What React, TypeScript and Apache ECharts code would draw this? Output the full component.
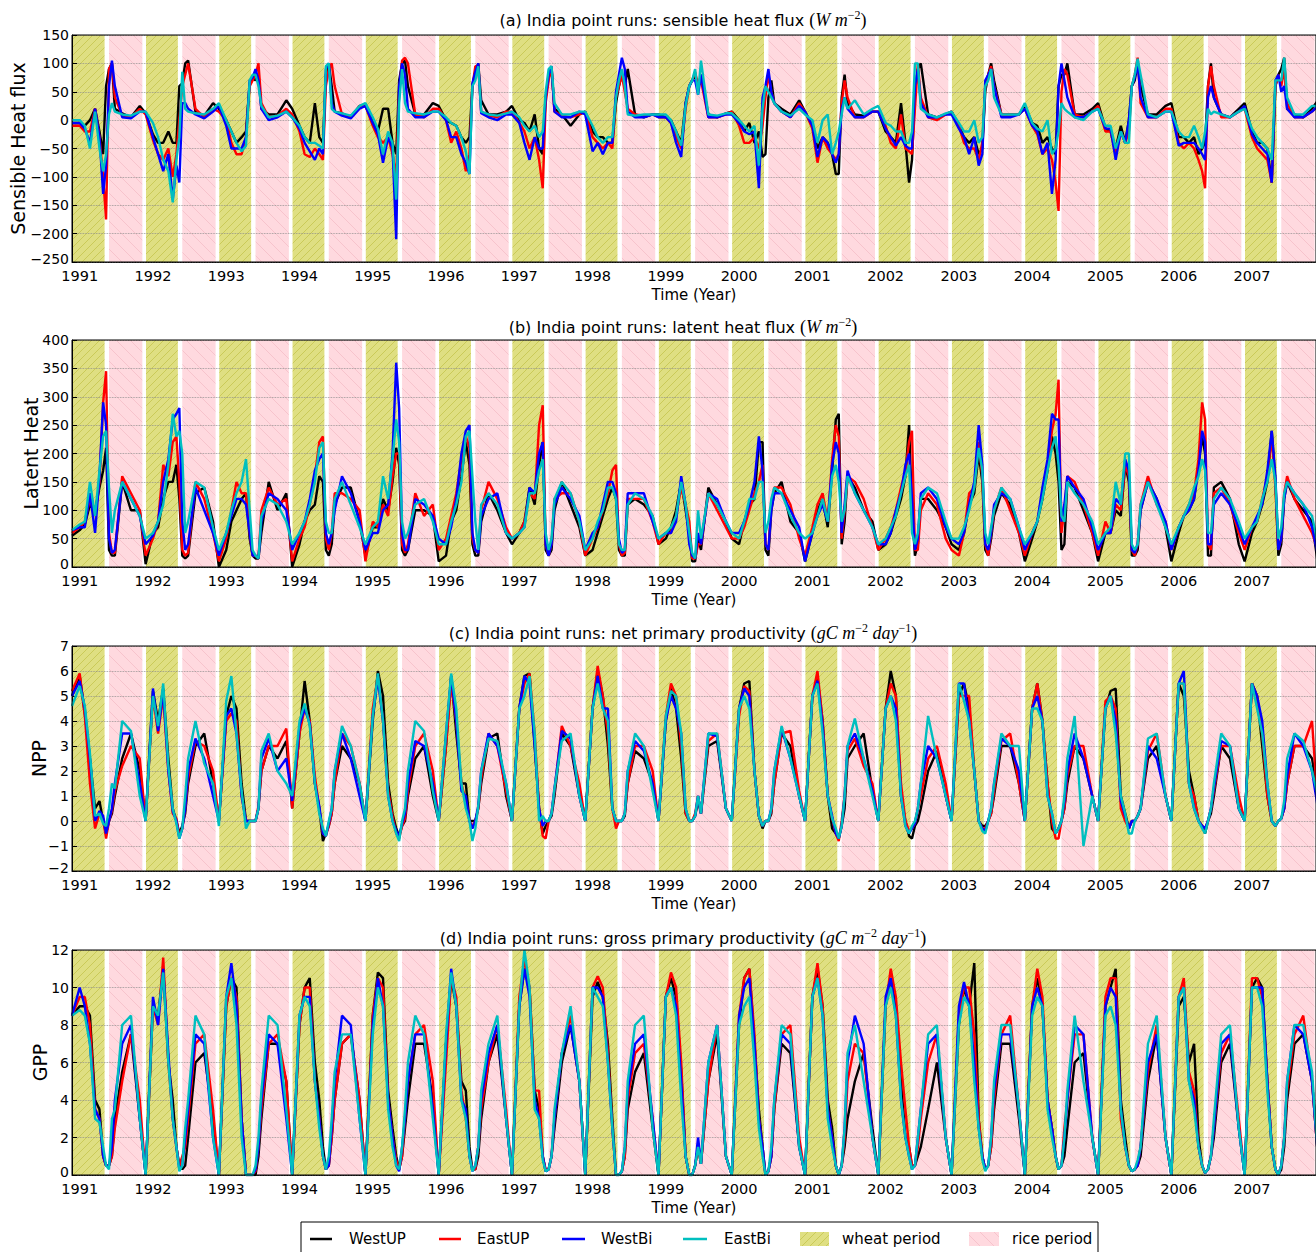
import React, { useEffect, useRef } from "react";
import * as echarts from "echarts";

// ---------- time axis ----------
const YEARS = [1991, 1992, 1993, 1994, 1995, 1996, 1997, 1998, 1999, 2000, 2001, 2002, 2003, 2004, 2005, 2006, 2007];
// sample positions inside each year (fraction of year)
const OFFSETS = [0.0, 0.07, 0.14, 0.21, 0.27, 0.32, 0.36, 0.4, 0.44, 0.48, 0.58, 0.7, 0.82, 0.9];
const START_T = 1990.895;
const X_MIN = 1990.895;
const X_MAX = 2007.874;
const TIME = [START_T, ...YEARS.flatMap((y) => OFFSETS.map((o) => Math.round((y + o) * 1000) / 1000))];

const WHEAT_PERIODS = [
  [1990.895, 1991.34], [1991.905, 1992.34], [1992.905, 1993.34], [1993.905, 1994.34], [1994.905, 1995.34],
  [1995.905, 1996.34], [1996.905, 1997.34], [1997.905, 1998.34], [1998.905, 1999.34], [1999.905, 2000.34],
  [2000.905, 2001.34], [2001.905, 2002.34], [2002.905, 2003.34], [2003.905, 2004.34], [2004.905, 2005.34],
  [2005.905, 2006.34], [2006.905, 2007.34],
];
const RICE_PERIODS = [
  [1991.4, 1991.855], [1992.4, 1992.855], [1993.4, 1993.855], [1994.4, 1994.855], [1995.4, 1995.855],
  [1996.4, 1996.855], [1997.4, 1997.855], [1998.4, 1998.855], [1999.4, 1999.855], [2000.4, 2000.855],
  [2001.4, 2001.855], [2002.4, 2002.855], [2003.4, 2003.855], [2004.4, 2004.855], [2005.4, 2005.855],
  [2006.4, 2006.855], [2007.4, 2007.855],
];

const SERIES_NAMES = ["WestUP", "EastUP", "WestBi", "EastBi"];

// ---------- (a) sensible heat flux ----------
const SH_WESTUP = [-5,
  -5,-10,0,20,-20,-60,60,90,100,20,12,5,25,12,
  -25,-40,-40,-20,-40,-40,60,65,100,105,15,8,30,20,
  0,-20,-40,-30,-20,65,75,70,80,20,10,10,35,20,
  -10,-30,-40,30,-30,-40,80,100,60,15,12,5,25,25,
  0,-20,20,20,-40,-60,70,100,105,60,10,10,30,25,
  0,-5,-10,-30,-40,-30,60,85,100,35,10,10,15,25,
  0,-5,-20,10,-50,-60,40,75,90,20,10,-10,10,15,
  -20,-30,-30,-40,-40,30,60,80,60,90,10,5,10,10,
  5,0,-20,-40,30,60,70,80,60,80,10,5,12,15,
  0,-20,-5,-40,-20,-65,-60,40,70,30,20,10,35,15,
  -10,-50,-30,-40,-60,-95,-95,40,80,30,10,8,15,15,
  -20,-30,-40,30,-40,-110,-70,50,90,100,10,5,10,15,
  -10,-30,-40,-30,-60,-50,50,80,100,70,10,10,10,25,
  -5,-10,-40,-30,-50,-60,60,80,80,100,10,10,20,30,
  -15,-20,-50,-10,-40,0,60,70,100,60,10,10,25,30,
  -30,-30,-40,-30,-60,-50,-40,60,100,40,10,5,20,30,
  -20,-40,-40,-50,-110,60,80,90,110,20,10,5,20,35];
const SH_EASTUP = [-10,
  -10,-20,-20,20,-30,-100,-175,90,100,40,8,5,20,10,
  -35,-60,-70,-50,-100,-60,0,60,80,100,20,5,20,15,
  0,-40,-60,-60,-30,60,70,80,100,30,5,8,20,10,
  -20,-60,-65,-50,-60,-70,60,90,100,60,10,5,25,25,
  -10,-30,-40,-30,-60,-100,50,105,110,100,10,5,20,20,
  0,-40,-20,-50,-90,-60,60,95,95,15,8,5,15,15,
  -5,-20,-50,-30,-70,-120,30,70,95,15,8,5,10,15,
  -30,-40,-50,-40,-50,40,60,80,50,20,10,8,10,5,
  5,-5,-30,-50,20,60,70,85,60,70,5,5,10,15,
  -10,-40,-40,-30,-50,-10,40,80,50,30,15,5,30,15,
  -15,-75,-30,-50,-60,-70,-60,30,70,40,5,5,15,15,
  -10,-40,-50,10,-50,-55,-60,20,100,40,5,0,10,15,
  -10,-40,-50,-50,-70,-40,60,80,95,60,10,10,10,20,
  -10,-25,-60,-50,-70,-110,-160,50,90,80,10,5,15,25,
  -20,-20,-60,-20,-40,-20,60,80,110,30,5,5,20,20,
  -40,-50,-40,-50,-70,-90,-120,60,95,60,5,5,15,20,
  -30,-50,-60,-70,-110,60,80,60,90,30,5,5,15,25];
const SH_WESTBI = [-5,
  -5,-15,-40,20,-30,-130,-80,60,105,60,5,3,15,15,
  -30,-60,-90,-60,-140,-80,-110,30,30,20,10,3,15,25,
  -10,-50,-50,-50,-30,70,75,90,70,20,0,5,15,5,
  -15,-40,-55,-70,-50,-60,90,100,30,15,8,3,20,25,
  -5,-25,-75,-30,-50,-210,60,100,80,20,5,5,15,15,
  0,-30,-30,-60,-75,-95,65,85,100,12,5,0,10,10,
  -5,-40,-70,-30,-50,-50,40,80,95,15,5,5,15,10,
  -55,-40,-60,-40,-40,50,80,110,90,15,5,5,10,5,
  5,-5,-40,-65,30,60,70,70,45,80,5,5,10,10,
  -5,-20,-25,-20,-120,40,60,90,50,30,15,5,25,15,
  -10,-65,-30,-40,-60,-75,-60,20,40,20,5,5,15,15,
  -15,-30,-45,-30,-45,-50,-50,60,90,30,5,5,10,10,
  -15,-30,-60,-30,-80,-60,70,80,90,60,5,5,10,20,
  -10,-20,-60,-40,-130,-70,60,100,70,40,5,5,15,20,
  -15,-15,-70,-20,-40,0,60,75,100,40,5,5,15,15,
  -45,-40,-40,-40,-50,-60,-70,40,60,40,10,5,15,25,
  -25,-40,-50,-60,-110,70,80,50,60,20,5,5,15,25];
const SH_EASTBI = [0,
  0,-10,-50,15,-50,-90,-60,10,30,15,10,8,15,15,
  -5,-30,-70,-90,-145,-70,-30,85,20,15,12,10,20,30,
  0,-20,-40,-55,-45,70,80,80,60,25,5,8,15,5,
  -10,-30,-40,-40,-45,-50,95,100,20,15,12,8,25,30,
  5,-15,-60,-20,-40,-140,30,90,30,15,12,10,15,15,
  5,-5,-10,-30,-55,-95,60,70,95,15,10,8,12,15,
  5,-10,-20,-10,-30,-20,50,90,95,30,10,10,15,15,
  -10,-30,-40,-30,-30,40,70,90,60,10,8,10,10,10,
  10,0,-20,-45,25,60,70,90,45,105,10,8,12,12,
  0,-10,-20,-10,-80,20,60,50,40,30,15,8,20,10,
  0,-40,0,10,-60,-40,-20,10,40,20,35,10,20,25,
  -5,-10,-20,-20,-40,-40,-20,100,100,20,10,5,12,15,
  -5,-20,-20,0,-40,-30,60,70,90,40,10,10,10,30,
  -5,-15,-20,0,-60,-50,-20,30,20,15,5,0,15,20,
  -10,-10,-50,-20,-40,-40,60,80,108,80,10,5,15,15,
  -20,-30,-30,-10,-30,-50,-20,20,10,15,10,5,15,20,
  -15,-30,-40,-50,-70,70,70,70,110,40,10,10,25,25];

// ---------- (b) latent heat flux ----------
const LH_WESTUP = [55,
  65,75,110,100,140,170,210,30,20,20,150,100,100,5,
  60,70,120,150,150,180,120,20,15,20,130,140,80,0,
  30,80,100,120,130,50,20,15,15,60,150,100,130,0,
  40,80,100,110,160,150,30,20,40,110,140,140,80,20,
  70,70,120,100,150,210,180,30,20,30,100,100,90,10,
  20,80,100,160,220,180,40,20,20,80,130,100,60,40,
  60,80,140,110,180,220,30,20,30,100,150,110,70,20,
  30,60,90,120,140,120,30,20,20,110,120,110,90,40,
  50,70,100,150,100,60,10,10,50,30,140,110,80,50,
  40,80,110,120,220,220,30,20,100,130,150,80,60,10,
  60,100,120,70,170,260,270,40,80,160,140,100,80,30,
  40,60,90,120,160,250,100,20,40,120,120,100,70,40,
  30,60,110,130,200,150,30,20,50,90,130,110,60,10,
  50,80,120,170,230,200,150,30,40,150,140,100,60,10,
  60,60,100,90,180,150,20,20,30,100,150,120,70,10,
  60,90,100,120,180,230,200,20,20,140,150,120,40,10,
  60,80,110,150,240,150,20,40,120,150,120,100,80,5];
const LH_EASTUP = [60,
  70,80,120,90,150,290,345,60,25,25,160,130,100,20,
  50,80,180,160,220,230,150,30,20,25,150,120,60,10,
  50,100,150,130,130,60,20,20,15,100,140,110,120,10,
  50,70,110,160,220,230,50,30,60,130,130,120,100,10,
  80,70,110,90,160,200,200,40,25,40,130,90,110,30,
  50,90,130,190,230,210,50,30,25,100,150,120,70,50,
  60,80,130,120,250,285,40,20,40,120,130,130,80,20,
  50,70,100,130,170,180,40,20,25,120,120,120,80,40,
  60,60,90,140,110,80,15,15,40,40,130,100,70,50,
  50,70,100,130,150,180,40,30,110,140,140,110,50,20,
  70,110,130,80,190,250,230,50,100,160,150,120,70,30,
  50,70,100,140,170,220,240,30,30,100,130,110,50,30,
  20,60,130,140,220,160,40,20,60,100,140,100,60,20,
  60,80,130,180,240,270,330,60,100,160,150,110,60,20,
  80,60,110,100,180,160,30,20,40,110,160,110,80,30,
  70,90,110,130,190,290,260,40,30,130,140,110,60,30,
  70,80,120,160,230,140,30,50,130,160,120,90,60,30];
const LH_WESTBI = [65,
  70,70,130,60,160,290,250,50,25,30,150,120,90,40,
  55,80,150,190,260,270,280,80,30,40,140,100,60,20,
  60,90,120,120,110,60,20,20,15,80,130,120,100,30,
  60,80,120,170,190,200,60,40,60,100,160,130,80,30,
  60,60,100,110,200,360,280,60,30,30,120,110,90,50,
  40,70,120,200,240,250,60,30,25,90,120,130,60,50,
  60,70,140,130,200,220,40,20,40,110,140,120,90,30,
  60,70,110,150,150,130,50,25,30,130,130,130,80,50,
  60,60,80,160,110,40,20,15,60,40,130,120,80,60,
  60,80,110,150,230,170,40,30,100,130,130,100,70,10,
  60,90,110,80,180,220,200,60,110,170,130,100,70,40,
  40,60,100,130,180,200,120,30,50,130,140,120,70,50,
  40,60,110,150,250,180,40,30,60,110,130,120,70,30,
  60,80,140,190,270,260,260,80,110,160,140,120,70,30,
  60,60,120,110,190,170,30,25,40,100,150,120,80,30,
  70,90,100,120,170,240,220,40,40,110,130,110,70,40,
  70,90,110,170,240,160,30,50,120,150,130,110,70,20];
const LH_EASTBI = [65,
  75,80,150,90,170,230,240,140,60,100,150,120,90,50,
  60,80,110,180,270,230,240,200,60,80,150,140,70,30,
  60,100,130,150,190,100,30,20,15,90,120,110,80,40,
  60,80,110,150,210,220,80,60,60,120,150,110,70,40,
  70,80,160,120,190,260,220,80,50,60,110,120,80,40,
  40,80,110,150,230,240,160,80,30,110,130,110,60,50,
  60,70,130,130,170,190,60,30,50,120,150,130,80,30,
  50,80,100,140,140,120,40,30,30,110,130,120,90,50,
  60,70,90,150,110,60,25,15,100,50,130,110,80,60,
  50,80,120,120,150,150,60,80,120,140,130,90,60,50,
  60,90,120,80,160,180,150,80,100,160,130,100,70,40,
  50,70,90,130,160,180,60,40,60,120,140,130,80,50,
  50,70,100,140,210,170,60,40,70,100,140,120,70,40,
  60,80,120,170,210,230,180,90,80,150,130,110,80,40,
  60,70,150,110,200,200,40,30,40,110,150,110,70,40,
  70,90,110,140,160,190,170,60,60,120,140,120,80,50,
  70,80,120,150,190,150,50,70,130,150,130,110,90,40];

// ---------- (c) net primary productivity ----------
const NPP_WESTUP = [5.0,
  5.8,4.3,2.5,0.5,0.8,0.0,-0.5,0.0,0.3,1.0,2.5,3.5,2.0,0.0,
  5.2,4.0,5.3,2.5,0.5,0.0,-0.5,-0.2,0.3,1.5,3.0,3.5,1.5,0.0,
  4.2,5.0,4.5,1.5,0.0,0.0,0.0,0.0,0.5,2.0,3.0,2.5,3.2,0.5,
  3.5,5.6,4.0,1.5,0.5,-0.8,-0.5,-0.2,0.3,1.5,3.0,2.5,1.5,0.0,
  4.0,6.0,5.0,1.5,0.3,-0.3,-0.6,-0.2,0.0,1.0,2.5,3.0,1.0,0.0,
  3.0,5.8,3.5,1.5,1.5,0.0,0.0,0.0,0.5,1.5,3.3,3.5,1.0,0.0,
  4.5,5.8,5.9,3.0,0.5,-0.5,-0.2,0.0,0.2,1.0,3.5,3.0,1.0,0.0,
  4.5,6.0,5.0,3.0,0.5,0.0,0.0,0.0,0.2,1.5,2.8,2.5,1.5,0.0,
  4.0,5.3,4.5,2.5,0.3,0.0,0.0,0.2,0.8,0.3,3.0,3.2,0.5,0.0,
  4.5,5.5,5.6,2.0,0.2,-0.3,0.0,0.0,0.3,1.5,3.5,3.0,1.0,0.0,
  5.0,5.7,4.0,1.0,-0.3,-0.5,-0.7,-0.2,0.5,2.5,3.0,3.5,1.2,0.0,
  4.5,6.0,5.0,1.0,0.0,-0.6,-0.7,-0.2,0.0,0.5,2.0,2.8,1.0,0.0,
  5.0,5.5,4.5,2.0,0.0,-0.2,-0.2,0.0,0.3,1.0,3.0,3.0,1.5,0.0,
  4.5,5.5,4.0,1.5,-0.3,-0.5,-0.3,0.0,0.5,1.5,3.0,2.5,1.0,0.0,
  4.5,5.2,5.3,1.0,0.3,-0.3,0.0,0.0,0.2,0.5,2.5,3.0,1.0,0.0,
  5.5,5.0,2.0,1.0,0.0,-0.2,-0.5,0.0,0.3,1.0,3.0,2.5,0.5,0.0,
  5.5,5.0,3.0,1.0,0.0,-0.2,0.0,0.1,0.5,1.5,3.0,3.0,2.5,1.0];
const NPP_EASTUP = [5.2,
  5.9,4.2,1.5,-0.3,0.3,0.1,-0.7,0.0,0.4,1.2,2.2,3.0,2.5,0.0,
  5.0,3.5,5.0,2.0,0.3,0.1,-0.6,-0.3,0.5,1.7,3.2,3.0,2.0,0.0,
  4.0,4.3,4.0,1.0,0.0,0.0,0.0,0.0,0.6,2.0,3.0,3.0,3.7,0.5,
  3.5,4.5,4.0,1.8,0.5,-0.5,-0.6,-0.2,0.3,1.5,3.5,3.0,1.5,0.0,
  4.5,5.8,4.0,1.2,0.2,-0.5,-0.7,-0.2,0.1,1.2,3.0,3.5,2.0,0.0,
  3.0,5.5,4.0,1.5,0.8,0.0,-0.2,0.0,0.5,1.7,3.5,3.0,1.2,0.0,
  4.5,5.5,5.9,3.5,0.5,-0.6,-0.7,0.0,0.3,1.2,3.8,3.0,1.5,0.0,
  4.5,6.2,5.0,3.5,0.5,-0.3,0.0,0.0,0.3,1.5,3.0,3.0,2.0,0.0,
  4.2,5.5,5.0,3.0,0.3,0.0,0.0,0.3,1.0,0.3,3.2,3.5,0.5,0.0,
  4.2,5.4,5.2,2.0,0.2,-0.2,0.0,0.0,0.4,1.5,3.5,3.6,1.2,0.0,
  5.0,6.0,4.0,1.0,0.1,-0.5,-0.8,0.0,1.0,2.8,3.3,2.2,1.5,0.0,
  4.5,5.5,5.0,1.5,0.0,-0.4,-0.3,-0.1,0.5,1.0,2.5,3.0,1.5,0.0,
  5.0,5.0,5.0,2.0,0.0,-0.3,-0.3,0.0,0.3,1.2,3.2,3.5,1.5,0.0,
  4.5,5.5,4.0,1.5,0.0,-0.7,-0.7,0.0,0.5,1.8,3.0,3.0,1.0,0.0,
  4.8,5.0,4.5,0.5,0.0,-0.3,0.0,0.0,0.2,0.5,2.8,3.5,1.0,0.0,
  5.5,5.5,1.5,1.0,0.0,-0.2,-0.3,0.0,0.5,1.2,3.0,3.0,1.0,0.0,
  5.5,5.0,3.5,1.0,0.0,-0.2,0.0,0.1,0.5,1.5,3.0,3.0,4.0,0.5];
const NPP_WESTBI = [5.0,
  5.6,4.5,2.5,0.0,0.4,0.2,-0.5,0.0,0.5,1.5,3.5,3.5,1.5,0.0,
  5.3,3.6,5.2,2.0,0.4,0.0,-0.7,-0.3,0.5,2.0,3.3,2.5,1.0,0.0,
  4.2,4.5,3.5,1.0,0.0,0.0,0.0,0.0,0.5,2.5,3.3,2.0,2.5,0.8,
  3.8,4.5,3.9,1.5,0.6,-0.5,-0.6,-0.1,0.5,2.0,3.5,2.5,1.0,0.0,
  4.2,5.7,4.0,1.0,0.0,-0.4,-0.6,-0.1,0.3,1.5,3.2,3.0,1.5,0.0,
  3.5,5.8,4.0,1.2,1.0,0.0,-0.3,0.0,0.6,2.0,3.5,3.0,1.5,0.0,
  4.5,5.8,5.5,3.0,0.5,-0.2,0.0,0.0,0.3,1.3,3.6,3.3,1.0,0.0,
  4.5,5.8,4.5,4.5,0.5,0.0,0.0,0.0,0.3,2.0,3.2,2.8,1.5,0.0,
  4.0,5.0,4.5,3.5,0.5,0.0,0.0,0.2,1.0,0.3,3.5,3.4,0.5,0.0,
  4.5,5.3,5.0,2.0,0.2,-0.2,0.0,0.0,0.5,2.0,3.7,2.5,1.0,0.0,
  5.0,5.6,3.8,1.0,0.2,-0.5,-0.7,-0.2,1.0,3.0,3.5,2.5,1.2,0.0,
  4.5,5.0,4.5,1.0,-0.2,-0.5,-0.3,-0.1,0.5,1.5,3.0,2.5,1.0,0.0,
  5.5,5.5,4.0,2.0,0.0,-0.3,-0.4,0.0,0.5,1.5,3.3,3.0,2.0,0.0,
  4.5,5.0,4.0,1.0,0.3,-0.5,-0.3,0.0,0.8,2.0,3.5,2.5,1.0,0.0,
  4.5,5.0,4.0,0.8,0.2,-0.3,0.0,0.0,0.2,0.5,3.0,2.5,1.0,0.0,
  5.5,6.0,1.5,0.5,0.0,-0.2,-0.3,0.0,0.5,1.3,3.2,3.0,0.5,0.0,
  5.5,5.0,4.0,1.5,0.0,-0.2,0.0,0.1,0.5,1.8,3.5,3.0,2.0,0.5];
const NPP_EASTBI = [4.6,
  5.4,4.6,2.7,0.2,0.3,-0.1,-0.2,0.5,1.5,1.3,4.0,3.6,1.0,0.0,
  5.0,3.8,5.5,2.2,0.5,-0.1,-0.7,-0.3,1.0,2.5,4.0,2.3,1.5,-0.2,
  4.8,5.8,3.5,1.2,-0.3,0.0,0.0,0.0,0.5,2.8,3.5,2.0,1.5,1.0,
  4.0,4.7,3.8,1.5,0.3,-0.3,-0.6,0.0,0.5,2.0,3.8,3.0,1.5,0.0,
  4.2,5.9,4.0,1.0,0.0,-0.5,-0.8,0.0,0.5,2.0,4.0,3.6,1.2,0.0,
  3.5,5.9,4.5,1.5,0.5,0.0,-0.8,-0.3,0.6,2.0,3.3,3.2,1.5,0.0,
  4.5,5.0,5.8,3.5,0.0,0.2,0.0,0.0,0.3,1.3,3.2,3.5,1.0,0.0,
  4.5,5.5,4.5,4.0,0.5,0.0,0.0,0.0,0.3,2.0,3.5,3.0,1.2,0.0,
  4.2,5.2,5.0,3.5,0.5,0.0,0.0,0.2,1.0,0.3,3.5,3.5,0.5,0.0,
  4.5,5.0,4.5,2.0,0.2,-0.2,0.0,0.0,0.5,2.0,3.8,2.5,1.0,0.0,
  5.0,5.5,3.5,1.0,0.1,-0.3,-0.7,-0.2,1.0,3.0,4.1,2.5,1.0,0.0,
  4.5,5.0,4.0,1.0,-0.2,-0.5,-0.2,0.0,0.5,1.5,4.2,2.5,1.0,0.0,
  5.5,4.8,4.0,2.0,0.0,-0.4,-0.5,0.0,0.5,1.5,3.5,3.0,3.0,0.0,
  4.5,4.5,4.0,1.0,0.3,-0.5,-0.3,0.0,1.0,2.5,4.2,-1.0,1.0,0.0,
  4.5,5.0,3.5,1.0,0.3,-0.5,-0.5,0.0,0.2,0.5,3.3,3.5,1.0,0.0,
  5.5,5.5,1.5,0.5,0.0,-0.3,-0.5,0.0,0.5,1.5,3.5,3.0,0.5,0.0,
  5.5,4.5,3.5,1.5,0.0,-0.2,0.0,0.1,0.8,2.5,3.5,3.2,2.0,1.0];

// ---------- (d) gross primary productivity ----------
const GPP_WESTUP = [8.5,
  9.0,9.0,8.5,4.0,3.5,1.0,0.5,0.5,1.0,3.0,5.5,7.5,3.0,0.0,
  9.0,8.5,11.0,6.0,4.0,1.5,0.5,0.3,0.5,2.0,6.0,6.5,3.0,0.0,
  9.0,10.5,10.0,3.0,0.0,0.0,0.0,0.0,1.0,3.0,7.0,7.0,5.0,0.0,
  8.0,10.0,10.5,6.0,4.0,1.5,0.3,0.5,2.0,4.0,7.0,7.5,4.0,0.0,
  8.5,10.8,10.5,4.5,2.5,1.0,0.3,1.0,2.5,4.0,7.0,7.0,4.0,0.0,
  7.0,10.5,9.0,5.0,4.5,1.5,0.3,0.3,1.0,3.0,6.0,7.5,3.0,0.0,
  9.0,11.0,10.0,4.5,3.5,1.0,0.2,0.3,1.0,2.5,6.0,8.0,5.0,0.0,
  9.5,10.3,9.5,7.0,3.0,0.0,0.0,0.2,1.0,3.5,5.5,6.5,2.5,0.0,
  9.5,10.5,9.5,5.5,1.0,0.0,0.0,0.5,1.5,0.6,5.0,7.5,1.0,0.0,
  8.0,10.5,11.0,7.0,3.5,1.5,0.0,0.2,1.0,3.5,7.0,6.5,1.5,0.0,
  9.5,11.0,9.0,4.0,2.5,0.5,0.0,0.5,1.5,3.0,5.0,6.5,2.5,0.0,
  9.0,10.5,9.0,5.0,2.0,1.5,0.5,0.5,1.0,1.5,3.5,6.0,2.0,0.0,
  8.0,10.0,9.0,11.3,3.0,1.0,0.3,0.5,1.5,3.5,7.0,7.0,3.0,0.0,
  9.0,10.5,9.0,4.0,2.5,1.0,0.3,0.5,1.0,2.5,6.0,6.5,2.0,0.0,
  9.0,10.0,11.0,4.0,2.0,0.5,0.2,0.3,0.5,1.0,5.0,7.5,2.0,0.0,
  9.0,9.5,6.0,7.0,2.0,0.5,0.1,0.3,1.0,2.0,6.0,7.0,2.5,0.0,
  10.0,10.5,10.0,5.0,1.5,0.3,0.0,0.3,1.5,4.0,7.0,7.5,5.0,1.0];
const GPP_EASTUP = [8.5,
  9.5,9.5,8.0,3.5,3.0,1.0,0.5,0.5,1.0,2.5,5.0,7.5,4.0,0.0,
  9.0,8.0,11.6,6.0,3.0,1.5,0.5,1.0,1.5,3.0,7.0,7.5,3.5,0.0,
  9.0,10.5,9.5,3.0,0.0,0.0,0.0,0.2,1.5,3.5,7.0,7.5,5.0,0.0,
  8.0,10.0,10.0,5.0,3.0,1.0,0.3,0.5,2.0,4.0,7.0,7.5,4.0,0.0,
  8.5,10.5,10.0,4.0,2.0,0.8,0.3,1.0,3.0,5.0,7.5,8.0,5.0,0.0,
  6.0,10.5,9.5,4.5,3.0,1.0,0.3,0.3,1.5,3.5,6.0,8.0,3.5,0.0,
  9.5,11.5,10.0,4.5,4.5,1.0,0.3,0.3,1.0,3.0,6.5,8.5,5.0,0.0,
  10.0,10.6,10.0,6.5,2.5,0.0,0.0,0.2,1.0,4.0,6.5,7.0,3.0,0.0,
  9.5,10.8,10.0,6.0,1.0,0.0,0.0,0.5,1.5,0.6,5.0,8.0,1.0,0.0,
  8.5,10.5,11.0,7.5,3.0,1.5,0.0,0.2,1.0,3.5,7.5,8.0,2.0,0.0,
  9.5,11.3,9.0,3.5,2.0,0.5,0.0,0.5,2.0,5.0,7.0,6.5,2.0,0.0,
  9.0,11.0,9.5,6.0,3.5,1.5,0.5,0.5,1.5,3.0,6.0,7.5,2.0,0.0,
  8.5,10.0,10.0,7.5,3.0,1.0,0.3,0.5,1.5,4.0,7.5,8.5,3.5,0.0,
  9.0,11.0,9.5,4.0,2.5,1.0,0.3,0.5,2.5,4.0,7.5,7.5,2.0,0.0,
  9.5,10.5,10.5,3.0,1.5,0.5,0.2,0.3,0.5,1.5,5.5,8.0,2.0,0.0,
  9.5,10.5,5.5,4.5,1.5,0.5,0.1,0.3,1.0,2.5,6.5,7.5,3.0,0.0,
  10.5,10.5,9.5,5.0,1.5,0.3,0.0,0.5,2.0,4.5,7.5,8.5,5.0,1.0];
const GPP_WESTBI = [8.5,
  10.0,9.0,7.0,3.5,3.0,1.0,0.5,0.5,1.5,4.0,7.0,8.0,3.0,0.0,
  9.5,8.0,11.0,6.5,3.0,1.5,0.3,0.5,2.0,3.5,7.5,7.0,2.0,0.0,
  9.5,11.3,9.0,3.0,0.0,0.0,0.0,0.3,1.5,4.0,7.5,7.0,3.0,0.0,
  8.5,9.5,9.5,5.0,3.0,1.0,0.3,0.5,2.5,5.0,8.5,8.0,3.0,0.0,
  8.0,10.5,9.0,4.0,2.0,0.5,0.2,1.5,3.0,5.0,7.5,7.5,3.5,0.0,
  7.0,11.0,9.0,4.0,3.5,1.0,0.2,0.5,1.5,4.0,6.5,8.0,3.0,0.0,
  9.0,11.0,9.5,4.0,3.0,1.0,0.2,0.3,1.0,3.0,6.5,8.0,5.0,0.0,
  10.0,10.0,9.5,6.0,2.5,0.0,0.0,0.2,1.5,4.5,7.0,7.5,3.0,0.0,
  9.5,10.0,9.0,5.0,1.0,0.0,0.0,0.5,2.0,0.6,6.0,8.0,1.0,0.0,
  8.5,10.0,10.5,7.0,3.0,1.5,0.0,0.2,1.0,4.0,7.5,7.0,1.5,0.0,
  9.5,10.5,8.5,3.5,2.0,0.5,0.0,0.5,2.5,6.0,8.5,7.0,2.0,0.0,
  9.5,10.5,8.5,4.0,2.0,1.0,0.3,0.5,2.0,3.5,7.0,7.5,2.0,0.0,
  9.0,10.3,9.0,6.0,2.5,1.0,0.3,0.5,2.0,4.5,7.5,7.5,3.5,0.0,
  9.0,10.0,9.0,4.0,2.5,1.0,0.3,0.5,2.0,4.0,8.0,7.5,2.0,0.0,
  9.0,10.0,9.5,3.5,1.5,0.5,0.2,0.3,0.5,1.5,6.0,7.5,2.0,0.0,
  9.5,10.0,5.0,4.0,1.5,0.5,0.1,0.3,1.0,2.5,7.0,7.5,2.5,0.0,
  10.0,10.0,10.0,5.0,1.5,0.3,0.0,0.5,2.0,5.0,8.0,7.5,5.0,1.0];
const GPP_EASTBI = [8.5,
  8.8,8.5,7.0,3.0,2.8,1.5,0.5,0.3,3.0,3.5,8.0,8.5,3.0,0.0,
  9.0,8.5,10.8,6.0,3.0,1.5,0.2,0.5,2.5,4.0,8.5,7.5,2.0,0.0,
  9.5,10.5,8.0,2.0,0.0,0.0,0.0,0.5,2.0,4.5,8.5,8.0,3.5,0.0,
  8.5,9.5,9.0,5.0,2.5,1.0,0.3,1.0,3.0,5.5,7.5,7.5,3.0,0.0,
  7.5,10.0,9.0,3.5,1.5,0.5,0.3,1.5,3.5,6.0,8.5,7.5,3.0,0.0,
  7.5,10.8,9.0,4.0,3.0,1.0,0.2,0.5,1.5,4.5,7.0,8.5,3.0,0.0,
  9.0,12.0,10.0,3.5,3.0,0.8,0.2,0.3,1.0,3.5,6.5,9.0,5.0,0.0,
  10.0,9.5,9.0,6.0,2.5,0.0,0.0,0.2,1.5,5.0,8.0,8.5,2.5,0.0,
  9.5,10.0,8.5,4.0,1.0,0.0,0.0,0.5,1.5,0.6,6.0,8.0,1.0,0.0,
  8.0,9.0,9.5,6.0,2.5,1.0,0.0,0.2,1.5,4.0,8.0,7.5,1.5,0.0,
  9.5,10.5,8.5,3.0,1.5,0.5,0.0,0.5,2.5,6.5,8.0,5.0,2.0,0.0,
  9.0,10.0,8.5,4.0,2.0,1.0,0.3,0.5,2.0,3.5,7.5,8.0,2.0,0.0,
  8.0,9.5,9.0,5.0,2.5,0.8,0.2,0.5,2.0,5.0,8.0,8.0,3.5,0.0,
  8.5,9.5,9.0,3.5,2.0,1.0,0.3,0.5,2.0,4.5,8.5,5.0,2.0,0.0,
  8.5,9.0,8.0,3.5,1.5,0.5,0.2,0.3,0.8,1.5,7.0,8.5,2.0,0.0,
  9.5,10.0,5.0,3.5,1.5,0.5,0.1,0.3,1.0,3.0,7.5,8.0,2.5,0.0,
  10.0,10.0,9.0,4.5,1.5,0.3,0.0,0.5,2.0,5.0,8.0,8.0,5.5,1.0];

// ---------- styling ----------
const LINE_COLORS = ["#000000", "#ff0000", "#0000ff", "#00bfbf"];
const FONT = "'DejaVu Sans', sans-serif";
const MATH_FONT = "'Liberation Serif', 'DejaVu Serif', serif";

const PANELS = [
  {
    title: "(a) India point runs: sensible heat flux {p|(}{i|W m}{s|\u22122}{p|)}",
    yName: "Sensible Heat flux", nameGap: 45, min: -250, max: 150, interval: 50, top: 35, height: 227, titleTop: 4,
    data: [SH_WESTUP, SH_EASTUP, SH_WESTBI, SH_EASTBI],
  },
  {
    title: "(b) India point runs: latent heat flux {p|(}{i|W m}{s|\u22122}{p|)}",
    yName: "Latent Heat", nameGap: 32, min: 0, max: 400, interval: 50, top: 340, height: 227, titleTop: 311,
    data: [LH_WESTUP, LH_EASTUP, LH_WESTBI, LH_EASTBI],
  },
  {
    title: "(c) India point runs: net primary productivity {p|(}{i|gC m}{s|\u22122}{i| day}{s|\u22121}{p|)}",
    yName: "NPP", nameGap: 24, min: -2, max: 7, interval: 1, top: 646, height: 225, titleTop: 617,
    data: [NPP_WESTUP, NPP_EASTUP, NPP_WESTBI, NPP_EASTBI],
  },
  {
    title: "(d) India point runs: gross primary productivity {p|(}{i|gC m}{s|\u22122}{i| day}{s|\u22121}{p|)}",
    yName: "GPP", nameGap: 23, min: 0, max: 12, interval: 2, top: 950, height: 225, titleTop: 922,
    data: [GPP_WESTUP, GPP_EASTUP, GPP_WESTBI, GPP_EASTBI],
  },
];

function makeHatch(bg: string, line: string, size: number, dir: string) {
  const c = document.createElement("canvas");
  c.width = size;
  c.height = size;
  const g = c.getContext("2d")!;
  g.fillStyle = bg;
  g.fillRect(0, 0, size, size);
  g.strokeStyle = line;
  g.lineWidth = 1;
  g.beginPath();
  if (dir === "/") {
    g.moveTo(0, size); g.lineTo(size, 0);
    g.moveTo(-1, 1); g.lineTo(1, -1);
    g.moveTo(size - 1, size + 1); g.lineTo(size + 1, size - 1);
  } else {
    g.moveTo(0, 0); g.lineTo(size, size);
    g.moveTo(-1, size - 1); g.lineTo(1, size + 1);
    g.moveTo(size - 1, -1); g.lineTo(size + 1, 1);
  }
  g.stroke();
  return { image: c, repeat: "repeat", imageWidth: size, imageHeight: size } as any;
}

function buildOption() {
  const wheatFill = makeHatch("#dfdf82", "#caca58", 8, "/");
  const riceFill = makeHatch("#ffd9df", "#f7c3cc", 14, "\\");
  const bandData: any[] = [
    ...WHEAT_PERIODS.map(([s, e]) => [{ xAxis: s, itemStyle: { color: wheatFill } }, { xAxis: e }]),
    ...RICE_PERIODS.map(([s, e]) => [{ xAxis: s, itemStyle: { color: riceFill } }, { xAxis: e }]),
  ];
  const minus = (v: number) => String(v).replace("-", "\u2212");

  const grids: any[] = [];
  const xAxes: any[] = [];
  const yAxes: any[] = [];
  const titles: any[] = [];
  const series: any[] = [];

  PANELS.forEach((p, i) => {
    grids.push({
      left: 72, right: 0, top: p.top, height: p.height,
      show: true, borderColor: "#000", borderWidth: 1, backgroundColor: "transparent", z: 3,
    });
    titles.push({
      text: p.title, left: 678, top: p.titleTop, textAlign: "center",
      textStyle: {
        fontFamily: FONT, fontSize: 16, fontWeight: "normal", color: "#000", lineHeight: 22,
        rich: {
          p: { fontFamily: MATH_FONT, fontSize: 18, color: "#000", lineHeight: 22 },
          i: { fontFamily: MATH_FONT, fontStyle: "italic", fontSize: 18, color: "#000", lineHeight: 22 },
          s: { fontFamily: MATH_FONT, fontSize: 12, color: "#000", lineHeight: 12, verticalAlign: "top" },
        },
      },
    });
    xAxes.push({
      type: "value", gridIndex: i, min: X_MIN, max: X_MAX,
      axisLine: { show: true, onZero: false, lineStyle: { color: "#000", width: 1 } },
      axisTick: { show: true, inside: true, length: 5, customValues: YEARS, lineStyle: { color: "#000" } },
      axisLabel: {
        customValues: YEARS, fontSize: 14.5, lineHeight: 11, color: "#000", margin: 8, fontFamily: FONT,
        formatter: (v: number) => String(Math.round(v)),
      },
      splitLine: { show: false },
      name: "Time (Year)", nameLocation: "middle", nameGap: 25, nameMoveOverlap: false,
      nameTextStyle: { fontSize: 15, color: "#000", fontFamily: FONT },
    });
    yAxes.push({
      type: "value", gridIndex: i, min: p.min, max: p.max, interval: p.interval, z: 1.5,
      name: p.yName, nameLocation: "middle", nameGap: p.nameGap, nameMoveOverlap: false,
      nameTextStyle: { fontSize: 19, color: "#000", fontFamily: FONT },
      axisLine: { show: true, onZero: false, lineStyle: { color: "#000", width: 1 } },
      axisTick: { show: true, inside: true, length: 5, lineStyle: { color: "#000" } },
      axisLabel: {
        fontSize: 14, lineHeight: 11, color: "#000", margin: 3, fontFamily: FONT,
        formatter: (v: number) => (v === p.min ? `{lo|${minus(v)}}` : minus(v)),
        rich: { lo: { fontSize: 14, lineHeight: 11, color: "#000", fontFamily: FONT, padding: [0, 0, 7, 0] } },
      },
      splitLine: { show: true, lineStyle: { color: "#8a8a8a", type: "dotted", width: 0.8 } },
    });
    p.data.forEach((arr, k) => {
      const s: any = {
        type: "line", name: SERIES_NAMES[k], xAxisIndex: i, yAxisIndex: i,
        data: TIME.map((t, j) => [t, arr[j]]),
        showSymbol: false, symbol: "none", silent: true, clip: true,
        lineStyle: { color: LINE_COLORS[k], width: 2.4 }, itemStyle: { color: LINE_COLORS[k] },
        z: 2,
      };
      if (k === 0) {
        s.markArea = { silent: true, label: { show: false }, data: bandData };
      }
      series.push(s);
    });
  });

  const ly = 1239;
  const legendItems: any[] = [
    { type: "rect", shape: { x: 301, y: 1222, width: 797, height: 40 }, style: { fill: "#fff", stroke: "#000", lineWidth: 1 } },
  ];
  const lineItems = [
    { x1: 310, x2: 332, tx: 349 },
    { x1: 439, x2: 461, tx: 477 },
    { x1: 562, x2: 585, tx: 601 },
    { x1: 683, x2: 707, tx: 724 },
  ];
  lineItems.forEach((li, k) => {
    legendItems.push({ type: "line", shape: { x1: li.x1, y1: ly, x2: li.x2, y2: ly }, style: { stroke: LINE_COLORS[k], lineWidth: 2.5 } });
    legendItems.push({ type: "text", x: li.tx, y: ly, style: { text: SERIES_NAMES[k], fontSize: 15, fontFamily: FONT, fill: "#000", verticalAlign: "middle" } });
  });
  legendItems.push({ type: "rect", shape: { x: 800, y: 1232, width: 29, height: 14 }, style: { fill: wheatFill } });
  legendItems.push({ type: "text", x: 842, y: ly, style: { text: "wheat period", fontSize: 15, fontFamily: FONT, fill: "#000", verticalAlign: "middle" } });
  legendItems.push({ type: "rect", shape: { x: 969, y: 1232, width: 30, height: 14 }, style: { fill: riceFill } });
  legendItems.push({ type: "text", x: 1012, y: ly, style: { text: "rice period", fontSize: 15, fontFamily: FONT, fill: "#000", verticalAlign: "middle" } });

  return {
    animation: false,
    backgroundColor: "#fff",
    textStyle: { fontFamily: FONT },
    title: titles,
    grid: grids,
    xAxis: xAxes,
    yAxis: yAxes,
    series,
    graphic: { elements: legendItems },
  };
}

export default function App() {
  const ref = useRef<HTMLDivElement>(null);
  useEffect(() => {
    document.body.style.margin = "0";
    const chart = echarts.init(ref.current!, null, { renderer: "svg" });
    chart.setOption(buildOption() as any);
    return () => chart.dispose();
  }, []);
  return <div ref={ref} style={{ width: 1316, height: 1252 }} />;
}
